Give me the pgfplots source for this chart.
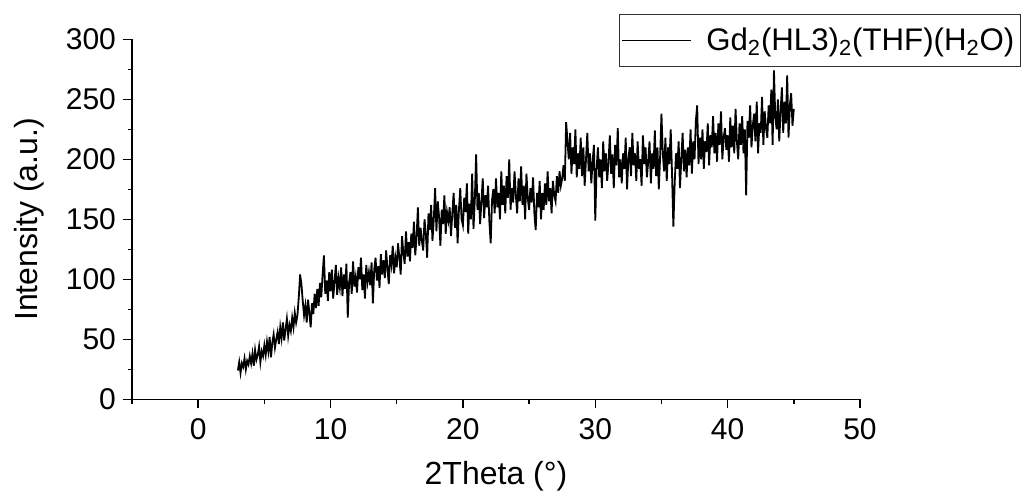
\documentclass[border=0pt]{standalone}
\usepackage{pgfplots}
\pgfplotsset{compat=1.18}
\usepackage{pgfplotstable}
\usepackage{fontspec}
\setmainfont{Liberation Sans}
\newcommand\tickfont{\fontsize{15pt}{18pt}\selectfont}
\newcommand\labfont{\fontsize{16pt}{19pt}\selectfont}
\newcommand\legfont{\fontsize{15.6pt}{18pt}\selectfont}
\pgfplotstableread{
x y
3.0 24
3.1 31
3.2 22
3.3 30
3.4 27
3.5 34
3.6 25
3.7 32
3.8 29
3.9 36
4.0 30
4.1 38
4.2 28
4.3 41
4.4 33
4.5 37
4.6 44
4.7 31
4.8 40
4.9 36
5.0 45
5.1 37
5.2 48
5.3 40
5.4 52
5.5 35
5.6 47
5.7 54
5.8 43
5.9 50
6.0 56
6.1 46
6.2 60
6.3 51
6.4 64
6.5 49
6.6 58
6.7 67
6.8 53
6.9 62
7.0 57
7.1 68
7.2 60
7.3 72
7.4 64
7.5 70
7.6 85
7.7 104
7.8 96
7.9 82
8.0 70
8.1 78
8.2 64
8.3 83
8.4 72
8.5 60
8.6 80
8.7 71
8.8 88
8.9 76
9.0 92
9.1 78
9.2 97
9.3 85
9.4 104
9.5 120
9.6 88
9.7 99
9.8 82
9.9 106
10.0 90
10.1 108
10.2 84
10.3 98
10.4 112
10.5 87
10.6 101
10.7 93
10.8 110
10.9 86
11.0 104
11.1 92
11.2 113
11.3 68
11.4 97
11.5 106
11.6 88
11.7 115
11.8 94
11.9 102
12.0 89
12.1 110
12.2 100
12.3 118
12.4 91
12.5 104
12.6 84
12.7 112
12.8 98
12.9 106
13.0 95
13.1 114
13.2 80
13.3 108
13.4 118
13.5 99
13.6 111
13.7 93
13.8 121
13.9 104
14.0 116
14.1 101
14.2 124
14.3 109
14.4 96
14.5 120
14.6 112
14.7 128
14.8 105
14.9 118
15.0 110
15.1 130
15.2 118
15.3 104
15.4 136
15.5 122
15.6 113
15.7 140
15.8 119
15.9 131
16.0 115
16.1 138
16.2 126
16.3 148
16.4 120
16.5 135
16.6 160
16.7 128
16.8 143
16.9 132
17.0 124
17.1 150
17.2 138
17.3 118
17.4 155
17.5 141
17.6 162
17.7 132
17.8 150
17.9 176
18.0 140
18.1 165
18.2 152
18.3 128
18.4 158
18.5 146
18.6 170
18.7 138
18.8 156
18.9 149
19.0 160
19.1 136
19.2 155
19.3 172
19.4 143
19.5 162
19.6 130
19.7 158
19.8 176
19.9 150
20.0 145
20.1 168
20.2 156
20.3 180
20.4 138
20.5 163
20.6 150
20.7 188
20.8 142
20.9 166
21.0 204
21.1 158
21.2 172
21.3 146
21.4 165
21.5 184
21.6 151
21.7 170
21.8 160
21.9 178
22.0 148
22.1 130
22.2 166
22.3 175
22.4 155
22.5 184
22.6 160
22.7 172
22.8 150
22.9 190
23.0 162
23.1 178
23.2 155
23.3 186
23.4 168
23.5 200
23.6 158
23.7 176
23.8 164
23.9 190
24.0 170
24.1 155
24.2 184
24.3 165
24.4 194
24.5 162
24.6 178
24.7 150
24.8 188
24.9 168
25.0 158
25.1 176
25.2 164
25.3 185
25.4 155
25.5 141
25.6 172
25.7 160
25.8 182
25.9 150
26.0 172
26.1 158
26.2 180
26.3 162
26.4 190
26.5 165
26.6 176
26.7 155
26.8 182
26.9 170
27.0 165
27.1 186
27.2 172
27.3 190
27.4 178
27.5 184
27.6 195
27.7 182
27.8 231
27.9 215
28.0 200
28.1 222
28.2 188
28.3 210
28.4 196
28.5 225
28.6 185
28.7 205
28.8 192
28.9 218
29.0 186
29.1 210
29.2 178
29.3 200
29.4 222
29.5 190
29.6 205
29.7 180
29.8 198
29.9 212
30.0 149
30.1 192
30.2 210
30.3 185
30.4 200
30.5 176
30.6 215
30.7 190
30.8 205
30.9 182
31.0 198
31.1 220
31.2 188
31.3 204
31.4 176
31.5 212
31.6 195
31.7 226
31.8 185
31.9 200
32.0 180
32.1 205
32.2 192
32.3 218
32.4 175
32.5 200
32.6 210
32.7 186
32.8 222
32.9 195
33.0 205
33.1 182
33.2 215
33.3 192
33.4 200
33.5 178
33.6 220
33.7 196
33.8 210
33.9 185
34.0 198
34.1 215
34.2 180
34.3 205
34.4 192
34.5 224
34.6 186
34.7 210
34.8 175
34.9 202
35.0 238
35.1 205
35.2 190
35.3 218
35.4 182
35.5 210
35.6 196
35.7 225
35.8 188
35.9 144
36.0 180
36.1 205
36.2 192
36.3 215
36.4 176
36.5 200
36.6 222
36.7 190
36.8 208
36.9 185
37.0 210
37.1 195
37.2 225
37.3 188
37.4 215
37.5 200
37.6 232
37.7 245
37.8 196
37.9 218
38.0 200
38.1 225
38.2 192
38.3 215
38.4 206
38.5 230
38.6 195
38.7 220
38.8 210
38.9 236
39.0 205
39.1 222
39.2 198
39.3 230
39.4 212
39.5 240
39.6 200
39.7 218
39.8 226
39.9 208
40.0 220
40.1 198
40.2 235
40.3 210
40.4 228
40.5 205
40.6 242
40.7 215
40.8 200
40.9 230
41.0 212
41.1 236
41.2 205
41.3 225
41.4 170
41.5 232
41.6 218
41.7 245
41.8 210
41.9 228
42.0 238
42.1 215
42.2 248
42.3 205
42.4 230
42.5 222
42.6 252
42.7 212
42.8 240
42.9 226
43.0 218
43.1 245
43.2 230
43.3 258
43.4 212
43.5 274
43.6 235
43.7 225
43.8 250
43.9 215
44.0 240
44.1 260
44.2 222
44.3 248
44.4 230
44.5 270
44.6 218
44.7 245
44.8 255
44.9 228
45.0 242
}\datatable
\begin{document}
\begin{tikzpicture}
\useasboundingbox (-66pt,-47.85pt) rectangle (445pt,199.65pt);
\begin{axis}[
  width=364pt, height=180pt, scale only axis,
  xmin=-5, xmax=50, ymin=0, ymax=300,
  axis x line*=bottom, axis y line*=left,
  axis line style={-, line width=0.75pt},
  every tick/.style={black, line width=0.75pt},
  tick align=outside,
  major tick length=4.5pt, minor tick length=2.2pt,
  xtick={0,10,...,50}, minor xtick={-5,5,...,45},
  ytick={0,50,...,300}, minor ytick={25,75,...,275},
  tick label style={font=\tickfont},
  xticklabel style={yshift=-1.5pt},
  /pgf/number format/assume math mode=true,
  xlabel={2Theta (°)}, ylabel={Intensity (a.u.)},
  label style={font=\labfont},
  xlabel style={yshift=-4pt},
  ylabel style={yshift=4pt},
  clip=false,
  legend style={at={(1.221,1.070)}, anchor=north east, draw=black!80, line width=0.5pt,
    font=\legfont, inner xsep=1pt, inner ysep=4.5pt,
    /tikz/every odd column/.append style={column sep=5pt}},
  legend cell align=left,
  legend image code/.code={\draw[#1] (0pt,0pt) -- (34.5pt,0pt);},
]
\addplot[black, line width=0.9pt] table[x=x, y=y] {\datatable};
\addlegendentry{Gd\textsubscript{2}(HL3)\textsubscript{2}(THF)(H\textsubscript{2}O)}
\end{axis}
\end{tikzpicture}
\end{document}
